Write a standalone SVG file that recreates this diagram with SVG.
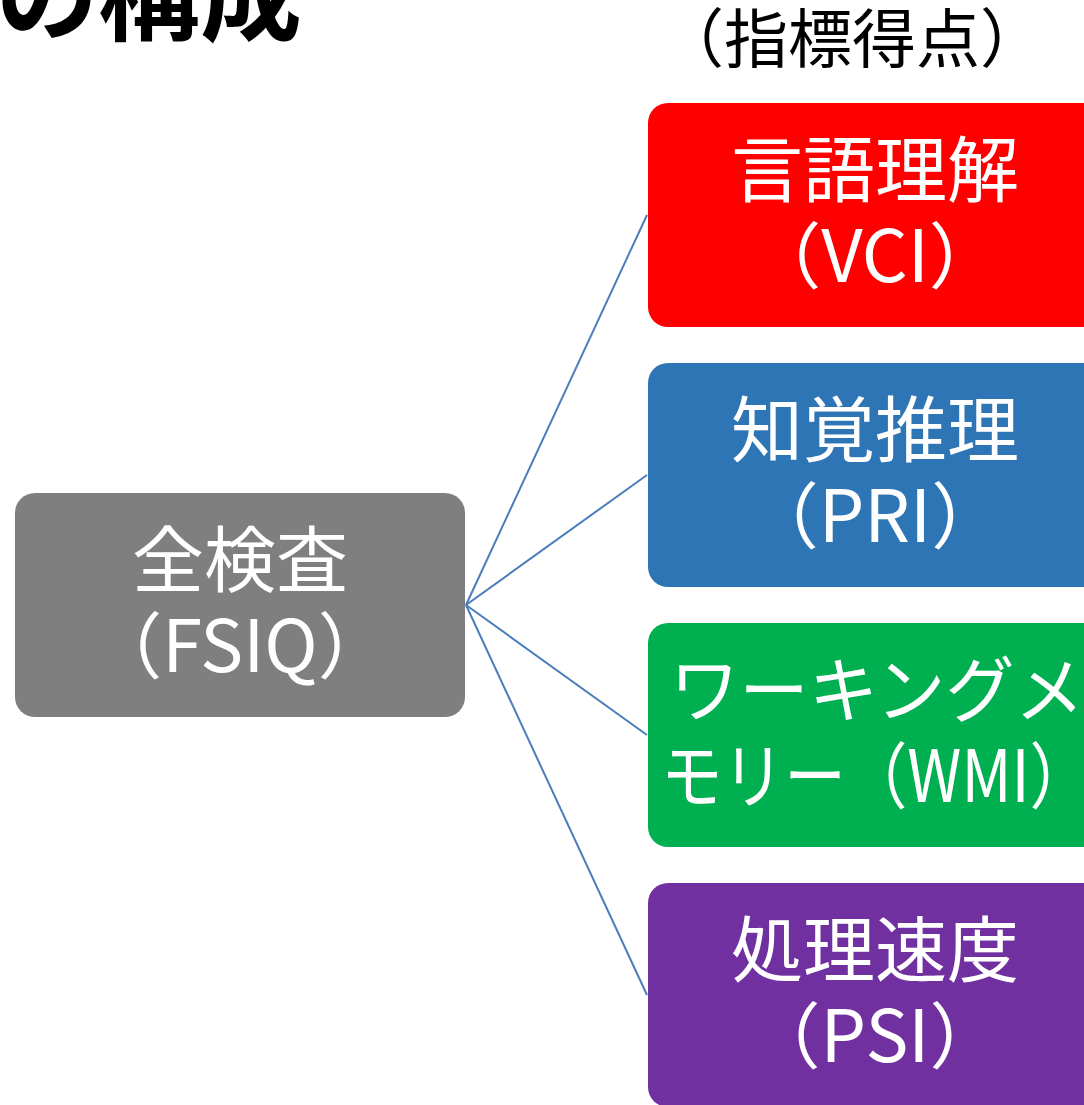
<svg xmlns="http://www.w3.org/2000/svg" width="1084" height="1105" viewBox="0 0 1084 1105">
<style>
.t{font-family:"Noto Sans CJK JP","Noto Sans",sans-serif;}
.lbl{fill:#fff;font-size:72px;text-anchor:middle;}
.conn{stroke:#4A7EBB;stroke-width:2;fill:none;}
</style>
<rect width="1084" height="1105" fill="#fff"/>
<text class="t" x="-4" y="33" font-size="102" font-weight="bold" fill="#000">の構成</text>
<text class="t" x="852" y="62" font-size="64" fill="#000" text-anchor="middle">（指標得点）</text>
<g id="connectors">
<line class="conn" x1="466" y1="605" x2="647" y2="215"/>
<line class="conn" x1="466" y1="605" x2="647" y2="475"/>
<line class="conn" x1="466" y1="605" x2="647" y2="735"/>
<line class="conn" x1="466" y1="605" x2="647" y2="995"/>
</g>
<g id="fsiq">
<rect x="15" y="493" width="450" height="224" rx="20" fill="#7F7F7F"/>
<text class="t lbl" x="240" y="586">全検査</text>
<text class="t lbl" x="240" y="672">（FSIQ）</text>
</g>
<g id="vci">
<rect x="648" y="103" width="456" height="224" rx="20" fill="#FF0000"/>
<text class="t lbl" x="875" y="196">言語理解</text>
<text class="t lbl" x="875" y="282">（VCI）</text>
</g>
<g id="pri">
<rect x="648" y="363" width="456" height="224" rx="20" fill="#2E75B6"/>
<text class="t lbl" x="875" y="456">知覚推理</text>
<text class="t lbl" x="875" y="542">（PRI）</text>
</g>
<g id="wmi">
<rect x="648" y="623" width="456" height="224" rx="20" fill="#00B050"/>
<text class="t lbl" x="877" y="716" textLength="414" lengthAdjust="spacingAndGlyphs">ワーキングメ</text>
<text class="t lbl" x="876" y="802" textLength="430" lengthAdjust="spacingAndGlyphs">モリー（WMI）</text>
</g>
<g id="psi">
<rect x="648" y="883" width="456" height="224" rx="20" fill="#7030A0"/>
<text class="t lbl" x="875" y="976">処理速度</text>
<text class="t lbl" x="875" y="1062">（PSI）</text>
</g>
</svg>
